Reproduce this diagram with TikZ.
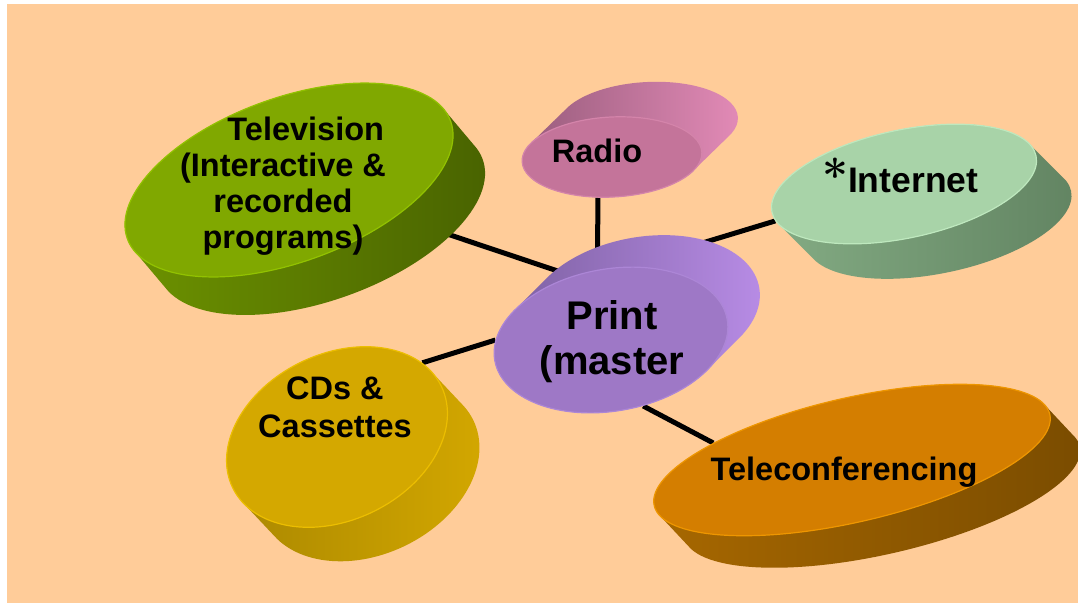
\documentclass[tikz,border=0pt]{standalone}
\usepackage{fontspec}
\newfontfamily\arialfont{Liberation Sans}
\usepackage{tikz}
\usetikzlibrary{shapes.geometric}
\definecolor{peach}{RGB}{255,204,153}
\definecolor{tvtop}{RGB}{128,168,0}
\definecolor{tvrim}{RGB}{146,194,0}
\definecolor{tvside}{RGB}{110,148,0}
\definecolor{tvdark}{RGB}{72,98,0}
\definecolor{radiotop}{RGB}{196,116,154}
\definecolor{radiorim}{RGB}{212,132,170}
\definecolor{radioside}{RGB}{152,92,124}
\definecolor{radiolight}{RGB}{226,138,182}
\definecolor{printtop}{RGB}{158,120,198}
\definecolor{printrim}{RGB}{172,134,214}
\definecolor{printside}{RGB}{122,94,158}
\definecolor{printlight}{RGB}{184,140,230}
\definecolor{nettop}{RGB}{168,211,168}
\definecolor{netrim}{RGB}{190,232,190}
\definecolor{netside}{RGB}{132,172,132}
\definecolor{netdark}{RGB}{98,132,98}
\definecolor{cdstop}{RGB}{212,168,0}
\definecolor{cdsrim}{RGB}{236,190,0}
\definecolor{cdsside}{RGB}{168,134,0}
\definecolor{cdsdark}{RGB}{118,94,0}
\definecolor{teletop}{RGB}{212,126,0}
\definecolor{telerim}{RGB}{238,150,0}
\definecolor{teleside}{RGB}{168,104,0}
\definecolor{teledark}{RGB}{122,76,0}
\pgfdeclarelayer{back}
\pgfdeclarelayer{links}
\pgfsetlayers{back,links,main}
\tikzset{
  face/.style = {ellipse, inner sep=0pt, line width=1.2pt},% top of a disc
  lbl/.style = {align=center, inner sep=0pt,
    font=\arialfont\bfseries\fontsize{32.5}{36}\selectfont},
  link/.style = {line width=5pt, black},
}

\begin{document}
\begin{tikzpicture}[x=1pt,y=-1pt]
  \useasboundingbox (0,0) rectangle (1078,603);
  \begin{pgfonlayer}{back}
    \fill[peach] (7,4) rectangle (1078,603);
  \end{pgfonlayer}

  % Television
  \shade[left color=tvside, right color=tvdark]
    \foreach \k in {0,...,20} {([shift={(\k*1.6,\k*1.9)}]289,180) ellipse [x radius=172, y radius=82, rotate=20]};
  \node[face, fill=tvtop, draw=tvrim, minimum width=344pt, minimum height=164pt, rotate=20] (tv) at (289,180) {};

  % Radio
  \shade[left color=radioside, right color=radiolight]
    \foreach \k in {0,...,20} {([shift={(\k*1.8,-\k*1.75)}]612,157) ellipse [x radius=90, y radius=40, rotate=3]};
  \node[face, fill=radiotop, draw=radiorim, minimum width=180pt, minimum height=80pt, rotate=3] (radio) at (612,157) {};

  % Print
  \shade[left color=printside, right color=printlight]
    \foreach \k in {0,...,20} {([shift={(\k*1.6,-\k*1.6)}]611,340) ellipse [x radius=118, y radius=71, rotate=10]};
  \node[face, fill=printtop, draw=printrim, minimum width=236pt, minimum height=142pt, rotate=10] (print) at (611,340) {};

  % Internet
  \shade[left color=netside, right color=netdark]
    \foreach \k in {0,...,20} {([shift={(\k*1.75,\k*1.75)}]904,184) ellipse [x radius=135, y radius=54, rotate=12]};
  \node[face, fill=nettop, draw=netrim, minimum width=270pt, minimum height=108pt, rotate=12] (net) at (904,184) {};

  % CDs
  \shade[left color=cdsside, middle color=cdsdark, right color=cdstop]
    \foreach \k in {0,...,20} {([shift={(\k*1.6,\k*1.7)}]337,437) ellipse [x radius=116, y radius=83, rotate=26]};
  \node[face, fill=cdstop, draw=cdsrim, minimum width=232pt, minimum height=166pt, rotate=26] (cds) at (337,437) {};

  % Teleconferencing
  \shade[left color=teleside, right color=teledark]
    \foreach \k in {0,...,20} {([shift={(\k*1.5,\k*1.6)}]852,460) ellipse [x radius=203, y radius=62, rotate=13]};
  \node[face, fill=teletop, draw=telerim, minimum width=406pt, minimum height=124pt, rotate=13] (tele) at (852,460) {};

  % labels
  \node[lbl] (tvlbl) at (283,186) {\hspace*{1.4em}Television\\(Interactive \&\\recorded\\programs)};
  \node[lbl, anchor=base] (radiolbl) at (597,162) {Radio};
  \node[lbl, font=\arialfont\bfseries\fontsize{40}{45}\selectfont] (printlbl) at (612,342) {Print\\(master};
  \node[lbl, anchor=base west, font=\arialfont\bfseries\fontsize{35.5}{36}\selectfont] (netlbl) at (822,192)
    {{\normalfont\bfseries\fontsize{46}{46}\selectfont *}Internet};
  \node[lbl, font=\arialfont\bfseries\fontsize{32.5}{38}\selectfont] (cdslbl) at (335,407) {CDs \&\\Cassettes};
  \node[lbl, anchor=base] (telelbl) at (844,480) {Teleconferencing};

  \begin{pgfonlayer}{links}
    \path[link] (tv.-39) edge (print.111);
    \path[link] (radio.-112) edge (print.91);
    \path[link] (net.-176) edge (print.70);
    \path[link] (cds.15) edge (print.170);
    \path[link] (tele.160) edge (print.-74);
  \end{pgfonlayer}
\end{tikzpicture}
\end{document}
